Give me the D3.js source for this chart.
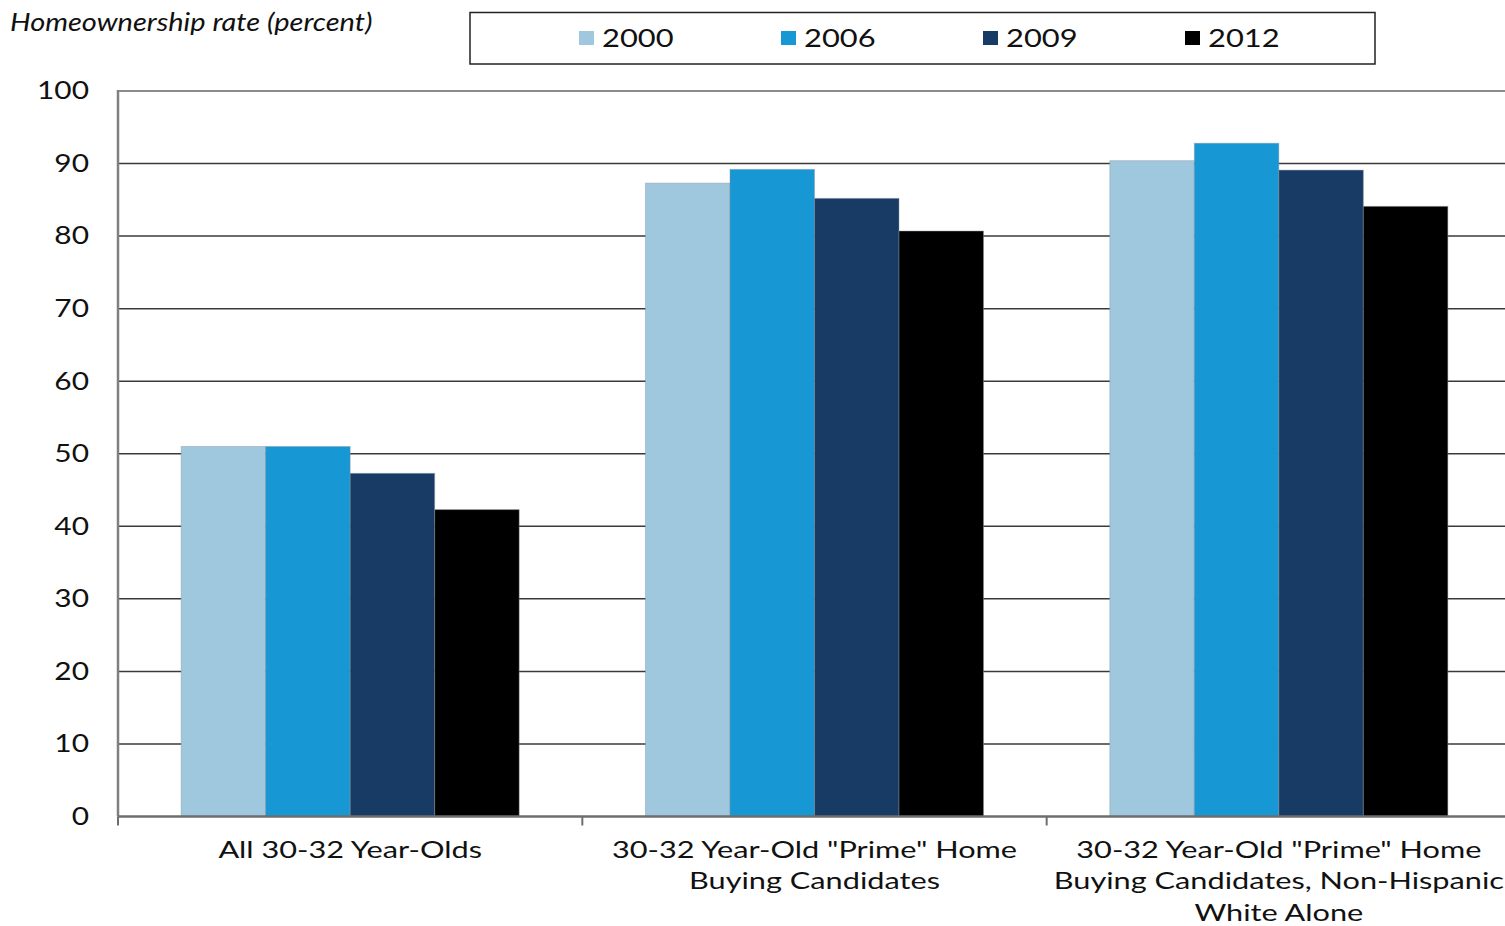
<!DOCTYPE html>
<html>
<head>
<meta charset="utf-8">
<script src="https://cdn.jsdelivr.net/npm/d3@7"></script>
<style>
  html, body { margin: 0; padding: 0; background: #fff; }
  svg { display: block; font-family: Lato, "Open Sans", sans-serif; }
</style>
</head>
<body>
<svg id="chart" width="1505" height="926"></svg>
<script>
// Homeownership rates of 30-32 year-olds by group and year
const categories = [
  ["All 30-32 Year-Olds"],
  ["30-32 Year-Old \"Prime\" Home", "Buying Candidates"],
  ["30-32 Year-Old \"Prime\" Home", "Buying Candidates, Non-Hispanic", "White Alone"]
];
const years = ["2000", "2006", "2009", "2012"];
const values2000 = [51.0, 87.3, 90.4];
const values2006 = [51.0, 89.2, 92.8];
const values2009 = [47.3, 85.2, 89.1];
const values2012 = [42.3, 80.7, 84.1];
const yTicks = [0, 10, 20, 30, 40, 50, 60, 70, 80, 90, 100];
const colors = ["#9fc7de", "#1797d4", "#173b64", "#000000"];

const series = [values2000, values2006, values2009, values2012];
const svg = d3.select("#chart");

const plotLeft = 118, plotRight = 1511, plotTop = 91, plotBottom = 816.5;
// Text in this chart is set wide (horizontally stretched glyphs)
const textStretch = 1.24;

const x0 = d3.scaleBand()
  .domain(d3.range(categories.length))
  .range([plotLeft, plotRight])
  .paddingInner(0)
  .paddingOuter(0);

const groupPad = 0.136;
const x1 = d3.scaleBand()
  .domain(years)
  .range([x0.bandwidth() * groupPad, x0.bandwidth() * (1 - groupPad)])
  .padding(0);

const y = d3.scaleLinear().domain([0, 100]).range([plotBottom, plotTop]);

// Horizontal gridlines
svg.append("g")
  .selectAll("line")
  .data(yTicks.filter(t => t > 0 && t < 100))
  .join("line")
  .attr("x1", plotLeft).attr("x2", plotRight)
  .attr("y1", d => y(d)).attr("y2", d => y(d))
  .attr("stroke", "#3a3a3a")
  .attr("stroke-width", 1.5);

// Plot area top border
svg.append("line")
  .attr("x1", plotLeft).attr("x2", plotRight)
  .attr("y1", y(100)).attr("y2", y(100))
  .attr("stroke", "#8c8c8c").attr("stroke-width", 2);

// Bars
const groups = svg.append("g")
  .selectAll("g")
  .data(categories.map((c, i) => i))
  .join("g")
  .attr("transform", i => `translate(${x0(i)},0)`);

groups.selectAll("rect")
  .data(i => years.map((yr, s) => ({ yr, s, v: series[s][i] })))
  .join("rect")
  .attr("x", d => x1(d.yr))
  .attr("width", x1.bandwidth())
  .attr("y", d => y(d.v))
  .attr("height", d => y(0) - y(d.v))
  .attr("fill", d => colors[d.s])
  .attr("stroke", "rgba(140,150,160,0.45)")
  .attr("stroke-width", 1);

// Y axis
const yAxis = svg.append("g")
  .attr("transform", `translate(${plotLeft},0)`)
  .call(d3.axisLeft(y).tickValues(yTicks).tickSize(0).tickPadding(29));
yAxis.select(".domain").attr("stroke", "#808080").attr("stroke-width", 2.5)
  .attr("d", `M0,${y(100) - 1}V${y(0)}`);
yAxis.selectAll("text")
  .attr("x", 0)
  .attr("transform", `translate(-29,0) scale(${textStretch - 0.02},1)`)
  .attr("font-size", 24.5)
  .attr("fill", "#111")
  .attr("font-family", "Lato, sans-serif");

// X axis line and ticks between categories
const xAxis = svg.append("g");
xAxis.append("line")
  .attr("x1", plotLeft).attr("x2", plotRight)
  .attr("y1", y(0)).attr("y2", y(0))
  .attr("stroke", "#6e6e6e").attr("stroke-width", 2.5);
xAxis.selectAll("line.tick")
  .data(d3.range(categories.length + 1))
  .join("line")
  .attr("class", "tick")
  .attr("x1", i => i < categories.length ? x0(i) : plotRight)
  .attr("x2", i => i < categories.length ? x0(i) : plotRight)
  .attr("y1", y(0)).attr("y2", y(0) + 9)
  .attr("stroke", "#6e6e6e").attr("stroke-width", 2);

// Category labels
svg.append("g")
  .selectAll("text")
  .data(categories)
  .join("text")
  .attr("text-anchor", "middle")
  .attr("font-size", 24)
  .attr("fill", "#111")
  .attr("transform", (d, i) => `translate(${x0(i) + x0.bandwidth() / 2},858) scale(${textStretch + 0.04},1)`)
  .selectAll("tspan")
  .data(d => d)
  .join("tspan")
  .attr("x", 0)
  .attr("y", (d, j) => j * 31.5)
  .text(d => d);

// Axis title
svg.append("text")
  .attr("transform", "translate(10,31) scale(1.16,1)")
  .attr("font-size", 25)
  .attr("font-style", "italic")
  .attr("fill", "#111")
  .text("Homeownership rate (percent)");

// Legend
const legend = svg.append("g");
legend.append("rect")
  .attr("x", 470).attr("y", 12.5)
  .attr("width", 905).attr("height", 51.5)
  .attr("fill", "#fff")
  .attr("stroke", "#222").attr("stroke-width", 1.5);

const legendX = d3.scalePoint().domain(years).range([579, 1185]);
const items = legend.selectAll("g.item")
  .data(years)
  .join("g")
  .attr("class", "item")
  .attr("transform", d => `translate(${legendX(d)},38)`);
items.append("rect")
  .attr("x", 0).attr("y", -7)
  .attr("width", 15).attr("height", 14)
  .attr("fill", (d, i) => colors[i]);
items.append("text")
  .attr("transform", `translate(23,9) scale(${textStretch - 0.03},1)`)
  .attr("font-size", 25.5)
  .attr("fill", "#111")
  .text(d => d);
</script>
</body>
</html>
